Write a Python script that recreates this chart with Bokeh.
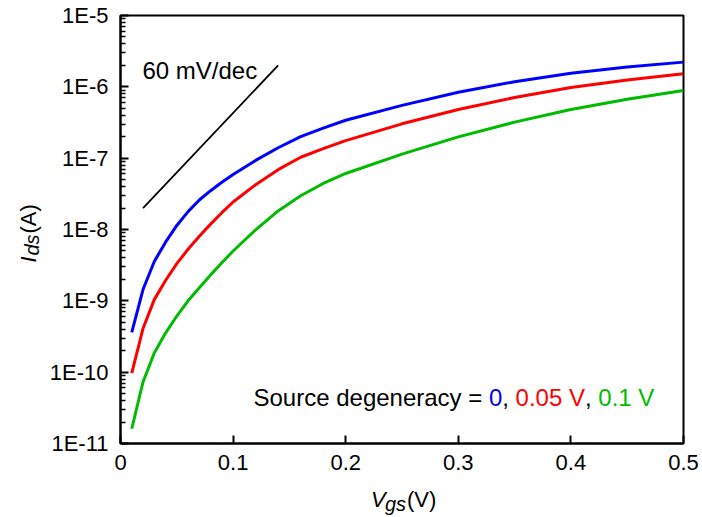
import math
from bokeh.plotting import figure
from bokeh.layouts import gridplot
from bokeh.models import Range1d, FixedTicker, CustomJSTickFormatter, Label
from bokeh.embed import file_html
from bokeh.resources import INLINE

# ---- data ----
vgs = [0.01, 0.02, 0.03, 0.04, 0.05, 0.06, 0.07, 0.08, 0.09, 0.10,
       0.12, 0.14, 0.16, 0.18, 0.20, 0.25, 0.30, 0.35, 0.40, 0.45, 0.50]
ids_0 = [3.60e-10, 1.44e-9, 3.56e-9, 6.64e-9, 1.14e-8, 1.78e-8, 2.59e-8, 3.50e-8, 4.60e-8, 5.90e-8,
         9.30e-8, 1.40e-7, 2.00e-7, 2.63e-7, 3.40e-7, 5.5e-7, 8.4e-7, 1.18e-6, 1.55e-6, 1.89e-6, 2.22e-6]
ids_005 = [9.7e-11, 4.09e-10, 1.04e-9, 1.93e-9, 3.33e-9, 5.28e-9, 8.04e-9, 1.19e-8, 1.72e-8, 2.43e-8,
           4.24e-8, 6.90e-8, 1.03e-7, 1.36e-7, 1.76e-7, 3.03e-7, 4.8e-7, 7.1e-7, 9.8e-7, 1.25e-6, 1.52e-6]
ids_01 = [1.61e-11, 7.28e-11, 1.86e-10, 3.53e-10, 6.12e-10, 1.00e-9, 1.53e-9, 2.31e-9, 3.41e-9, 5.00e-9,
          9.9e-9, 1.82e-8, 2.97e-8, 4.42e-8, 6.10e-8, 1.14e-7, 1.99e-7, 3.2e-7, 4.8e-7, 6.7e-7, 8.9e-7]
slope_v = [0.02, 0.14]
slope_i = [2e-8, 2e-6]
x_ticks = [0.0, 0.1, 0.2, 0.3, 0.4, 0.5]
y_decades = [-11, -10, -9, -8, -7, -6, -5]

BLUE = "#0000FF"
RED = "#FF0000"
GREEN = "#00BB00"
FONT = "Liberation Sans"

# ---------------- main plot ----------------
p = figure(width=657, height=483, output_backend="svg", toolbar_location=None,
           x_range=Range1d(0, 0.5), y_range=Range1d(1e-11, 1e-5), y_axis_type="log",
           min_border_left=75, min_border_right=19, min_border_top=15, min_border_bottom=40)
p.background_fill_color = "white"
p.border_fill_color = "white"
p.grid.visible = False
p.outline_line_color = "black"
p.outline_line_width = 2

xa = p.xaxis[0]
xa.ticker = FixedTicker(ticks=x_ticks)
xa.formatter = CustomJSTickFormatter(code="return tick == 0 ? '0' : tick.toFixed(1);")
xa.major_tick_in = 8
xa.major_tick_out = 0
xa.minor_tick_in = 0
xa.minor_tick_out = 0
xa.axis_line_width = 2
xa.major_tick_line_width = 2
xa.major_label_text_font = FONT
xa.major_label_text_font_size = "22px"
xa.major_label_text_color = "black"
xa.major_label_standoff = 11

ya = p.yaxis[0]
major = [10.0 ** d for d in y_decades]
minor = [k * 10.0 ** d for d in y_decades[:-1] for k in range(2, 10)]
ya.ticker = FixedTicker(ticks=major, minor_ticks=minor)
ya.formatter = CustomJSTickFormatter(code="return '1E' + Math.round(Math.log10(tick));")
ya.major_tick_in = 8
ya.major_tick_out = 0
ya.minor_tick_in = 5
ya.minor_tick_out = 0
ya.axis_line_width = 2
ya.major_tick_line_width = 2
ya.minor_tick_line_width = 1.5
ya.major_label_text_font = FONT
ya.major_label_text_font_size = "22px"
ya.major_label_text_color = "black"
ya.major_label_standoff = 12

p.line(vgs, ids_0, line_color=BLUE, line_width=3, line_join="round")
p.line(vgs, ids_005, line_color=RED, line_width=3, line_join="round")
p.line(vgs, ids_01, line_color=GREEN, line_width=3, line_join="round")
p.line(slope_v, slope_i, line_color="black", line_width=1.8)

p.add_layout(Label(x=0.0195, y=1.67e-6, text="60 mV/dec", text_font=FONT,
                   text_font_size="24px", text_color="black", text_baseline="middle"))

lx, ly = 0.1181, 4.41e-11
pieces = [("Source degeneracy = ", "black", 0), ("0", BLUE, 235.5), (",", "black", 248.8),
          ("0.05 V", RED, 262.1), (",", "black", 331.5), ("0.1 V", GREEN, 344.8)]
for t, c, off in pieces:
    p.add_layout(Label(x=lx, y=ly, x_offset=off, text=t, text_font=FONT, text_baseline="middle",
                       text_font_size="24px", text_color=c))


def strip(w, h, **kw):
    f = figure(width=w, height=h, output_backend="svg", toolbar_location=None,
               x_axis_location=None, y_axis_location=None, **kw)
    f.grid.visible = False
    f.outline_line_color = None
    f.background_fill_color = "white"
    f.border_fill_color = "white"
    return f


def lab(f, text, x, y, dx, dy, size, style="normal", angle=0.0):
    f.add_layout(Label(x=x, y=y, x_offset=dx, y_offset=dy, text=text, text_font=FONT,
                       text_font_size=size, text_font_style=style, text_color="black",
                       angle=angle, text_baseline="middle"))


# y-axis title strip (shares the log y range, frame aligned with the main frame)
pl = strip(45, 483, x_range=Range1d(0, 45), y_range=p.y_range, y_axis_type="log",
           min_border_left=0, min_border_right=0, min_border_top=15, min_border_bottom=40)
lab(pl, "I", 28, 1e-8, 0, -33, "22px", "italic", math.pi / 2)
lab(pl, "ds", 31, 1e-8, 0, -26, "20px", "italic", math.pi / 2)
lab(pl, "(A)", 28, 1e-8, 0, -4, "22px", "normal", math.pi / 2)

# x-axis title strip (shares the x range, frame aligned with the main frame)
pb = strip(657, 34, x_range=p.x_range, y_range=Range1d(0, 34),
           min_border_left=75, min_border_right=19, min_border_top=0, min_border_bottom=0)
lab(pb, "V", 0.25, 18, -31, 0, "22px", "italic")
lab(pb, "gs", 0.25, 14, -17, 0, "20px", "italic")
lab(pb, "(V)", 0.25, 18, 5, 0, "22px")

grid = gridplot([[pl, p], [None, pb]], toolbar_location=None)
open("out.html", "w").write(file_html(grid, INLINE))
